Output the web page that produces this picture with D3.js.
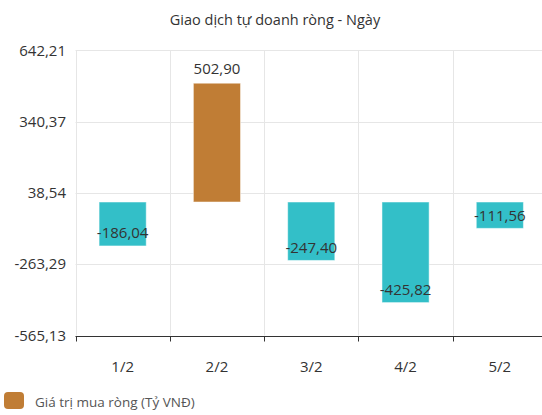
<!DOCTYPE html>
<html>
<head>
<meta charset="utf-8">
<title>Giao dịch tự doanh ròng - Ngày</title>
<script src="https://d3js.org/d3.v7.min.js"></script>
<style>
  body { margin: 0; background: #fff; }
  svg { display: block; font-family: "Open Sans", "Noto Sans", sans-serif; }
</style>
</head>
<body>
<script>
// data
var days = ["1/2", "2/2", "3/2", "4/2", "5/2"];
var netValues = [-186.04, 502.90, -247.40, -425.82, -111.56];
var yTicks = [642.21, 340.37, 38.54, -263.29, -565.13];

var width = 542, height = 415;
var posColor = "#c07d35", negColor = "#33bfc8";

var svg = d3.select("body").append("svg")
    .attr("width", width)
    .attr("height", height);

// scales (band range runs past the right edge, like the original)
var x = d3.scaleBand().domain(days).range([75.5, 547]).paddingInner(0.5).paddingOuter(0.25);
var y = d3.scaleLinear().domain([-565.13, 642.21]).range([335.5, 50.3]);

var fmt = function(v) { return d3.format(".2f")(v).replace(".", ",").replace("−", "-"); };

// title
svg.append("text")
    .attr("x", 275).attr("y", 25)
    .attr("text-anchor", "middle")
    .attr("font-size", 14.5)
    .attr("fill", "#333")
    .text("Giao dịch tự doanh ròng - Ngày");

// horizontal grid
svg.append("g").selectAll("line").data(yTicks).join("line")
    .attr("x1", 75.5).attr("x2", width)
    .attr("y1", d => Math.round(y(d)) + 0.5).attr("y2", d => Math.round(y(d)) + 0.5)
    .attr("stroke", "#e6e6e6");

// vertical grid at band edges
var edges = days.map((d, i) => x.range()[0] + i * x.step());
svg.append("g").selectAll("line").data(edges).join("line")
    .attr("x1", d => Math.round(d) + 0.5).attr("x2", d => Math.round(d) + 0.5)
    .attr("y1", y(642.21)).attr("y2", y(-565.13))
    .attr("stroke", "#e6e6e6");

// y labels
svg.append("g").selectAll("text").data(yTicks).join("text")
    .attr("x", 66).attr("y", d => y(d))
    .attr("dy", "0.35em")
    .attr("text-anchor", "end")
    .attr("font-size", 15)
    .attr("font-weight", 500)
    .attr("fill", "#333")
    .text(d => fmt(d));

// bars
svg.append("g").selectAll("rect").data(netValues).join("rect")
    .attr("x", (d, i) => x(days[i]))
    .attr("width", x.bandwidth())
    .attr("y", d => Math.min(y(0), y(d)))
    .attr("height", d => Math.abs(y(d) - y(0)))
    .attr("fill", d => d >= 0 ? posColor : negColor)
    .attr("stroke", "#fff")
    .attr("stroke-opacity", 0.5)
    .attr("stroke-width", 1);

// value labels
svg.append("g").selectAll("text").data(netValues).join("text")
    .attr("x", (d, i) => x(days[i]) + x.bandwidth() / 2)
    .attr("y", d => d >= 0 ? y(d) - 14 : y(d) - 13)
    .attr("dy", "0.35em")
    .attr("text-anchor", "middle")
    .attr("font-size", 15)
    .attr("font-weight", 500)
    .attr("fill", "#333")
    .text(d => fmt(d));

// bottom axis
var axisY = Math.round(y(-565.13)) + 0.5;
svg.append("line")
    .attr("x1", 75.5).attr("x2", width)
    .attr("y1", axisY).attr("y2", axisY)
    .attr("stroke", "#333");
svg.append("g").selectAll("line").data(edges).join("line")
    .attr("x1", d => Math.round(d) + 0.5).attr("x2", d => Math.round(d) + 0.5)
    .attr("y1", axisY).attr("y2", axisY + 5)
    .attr("stroke", "#333");
svg.append("g").selectAll("text").data(days).join("text")
    .attr("x", d => x(d) + x.bandwidth() / 2)
    .attr("y", 367)
    .attr("dy", "0.35em")
    .attr("text-anchor", "middle")
    .attr("font-size", 15)
    .attr("font-weight", 500)
    .attr("fill", "#333")
    .text(d => d);

// legend
svg.append("rect")
    .attr("x", 4).attr("y", 392)
    .attr("width", 20).attr("height", 17)
    .attr("rx", 4)
    .attr("fill", posColor);
svg.append("text")
    .attr("x", 35).attr("y", 402)
    .attr("dy", "0.35em")
    .attr("font-size", 13.5)
    .attr("fill", "#555")
    .text("Giá trị mua ròng (Tỷ VNĐ)");
</script>
</body>
</html>
